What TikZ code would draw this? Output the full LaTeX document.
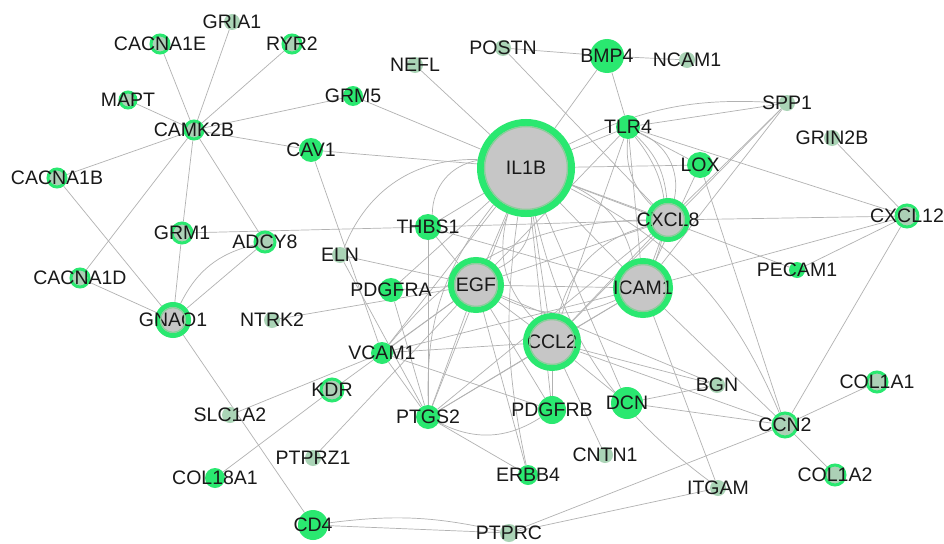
\documentclass[tikz,border=0pt]{standalone}
\usepackage{fontspec}
\setmainfont{Liberation Sans}
\usetikzlibrary{backgrounds}
\definecolor{ngreen}{RGB}{42,232,112}
\definecolor{hubfill}{RGB}{198,198,198}
\definecolor{ringin}{RGB}{140,205,155}
\definecolor{pale}{RGB}{170,212,182}
\definecolor{smallfill}{RGB}{172,208,182}
\definecolor{edgec}{RGB}{178,178,178}
\newcommand\gnode[5]{\node[#5, minimum size=#4*2pt, label={[lab]center:#1}] (#1) at (#2,#3) {};}
\newcommand\hubnode[5]{\node[hub, line width=#5pt, minimum size=(2*#4-#5)*1pt, label={[lab]center:#1}] (#1) at (#2,#3) {};
  \draw[ringin, line width=1.3pt] (#1.center) circle ({#4-#5-0.6});}
\begin{document}
\begin{tikzpicture}[x=1pt,y=-1pt,
  lab/.style={font=\fontsize{19.5}{19.5}\selectfont, text=black!90, inner sep=0pt},
  gn/.style={circle, inner sep=0pt, fill=ngreen, draw=none},
  gr/.style={circle, inner sep=0pt, fill=smallfill, draw=ngreen, line width=3pt},
  pl/.style={circle, inner sep=0pt, fill=pale, draw=none},
  hub/.style={circle, inner sep=0pt, fill=hubfill, draw=ngreen},
  edge/.style={draw=edgec, line width=0.7pt}]
\useasboundingbox (0,0) rectangle (944,543);
% nodes
\gnode{GRIA1}{232}{22}{8}{pl}
\gnode{CACNA1E}{160}{44}{9}{gr}
\gnode{RYR2}{292}{44}{9}{gr}
\gnode{MAPT}{128}{100}{8}{gr}
\gnode{CAMK2B}{194}{130}{9}{gr}
\gnode{CACNA1B}{57}{178}{9}{gr}
\gnode{GRM5}{353}{96}{10}{gn}
\gnode{NEFL}{415}{65}{8}{pl}
\gnode{POSTN}{503}{48}{8}{pl}
\gnode{BMP4}{607}{56}{17}{gn}
\gnode{NCAM1}{687}{60}{8}{pl}
\gnode{CAV1}{311}{150}{12}{gn}
\hubnode{IL1B}{526}{168}{49}{7}
\gnode{TLR4}{628}{127}{12}{gn}
\gnode{LOX}{700}{165}{13}{gn}
\gnode{SPP1}{787}{103}{8}{pl}
\gnode{GRIN2B}{832}{138}{8}{pl}
\hubnode{CXCL8}{668}{220}{22}{5}
\gnode{CXCL12}{907}{216}{11}{gr}
\gnode{THBS1}{428}{227}{13}{gn}
\gnode{GRM1}{182}{233}{10}{gr}
\gnode{ADCY8}{265}{242}{10}{gr}
\gnode{ELN}{340}{255}{8}{pl}
\gnode{PDGFRA}{391}{290}{12}{gn}
\hubnode{EGF}{476}{285}{28}{6}
\hubnode{ICAM1}{643}{288}{30}{6}
\gnode{PECAM1}{797}{270}{8}{gn}
\gnode{CACNA1D}{80}{278}{9}{gr}
\hubnode{GNAO1}{173}{320}{18}{5}
\gnode{NTRK2}{272}{320}{8}{pl}
\hubnode{CCL2}{552}{342}{29}{6}
\gnode{VCAM1}{382}{353}{11}{gn}
\gnode{KDR}{332}{390}{11}{gr}
\gnode{SLC1A2}{230}{415}{8}{pl}
\gnode{PTGS2}{428}{417}{12}{gn}
\gnode{PDGFRB}{552}{410}{14}{gn}
\gnode{DCN}{627}{403}{16}{gn}
\gnode{BGN}{717}{385}{8}{pl}
\gnode{CCN2}{785}{425}{12}{gr}
\gnode{COL1A1}{877}{382}{10}{gr}
\gnode{COL1A2}{835}{475}{10}{gr}
\gnode{PTPRZ1}{313}{458}{8}{pl}
\gnode{CNTN1}{605}{455}{8}{pl}
\gnode{ERBB4}{528}{475}{10}{gn}
\gnode{ITGAM}{718}{488}{8}{pl}
\gnode{COL18A1}{215}{478}{10}{gn}
\gnode{CD4}{313}{525}{15}{gn}
\gnode{PTPRC}{509}{533}{9}{pl}
% edges
\begin{scope}[on background layer]
\fill[white] (0,0) rectangle (944,543);
\foreach \a/\b in {CAMK2B/CACNA1E, CAMK2B/GRIA1, CAMK2B/RYR2, CAMK2B/MAPT, CAMK2B/CACNA1B,
  CAMK2B/GRM5, CAMK2B/CAV1, CAMK2B/GRM1, CAMK2B/ADCY8, CAMK2B/CACNA1D,
  GNAO1/CACNA1B, GNAO1/CACNA1D, GNAO1/GRM1, GNAO1/ADCY8, GNAO1/CD4, GRM1/THBS1,
  CAV1/IL1B, CAV1/VCAM1, NEFL/IL1B, GRM5/IL1B, POSTN/BMP4, POSTN/CXCL8, BMP4/IL1B,
  BMP4/NCAM1, BMP4/TLR4, TLR4/IL1B, TLR4/SPP1, TLR4/CXCL12, TLR4/ICAM1, TLR4/CCL2,
  TLR4/EGF, TLR4/LOX, LOX/IL1B, LOX/ICAM1, LOX/CCN2, SPP1/CXCL8, SPP1/ICAM1, SPP1/CCL2,
  GRIN2B/CXCL12, CXCL12/ICAM1, CXCL12/CXCL8, CXCL12/PECAM1, CXCL12/CCN2,
  PECAM1/IL1B, CCN2/COL1A1, CCN2/COL1A2, CCN2/DCN, CCN2/ICAM1, CCN2/CCL2, CCN2/PTPRC,
  ITGAM/ICAM1, ITGAM/PTPRC, DCN/BGN, DCN/CCL2, DCN/IL1B, BGN/CCL2, BGN/EGF,
  PDGFRB/EGF, PDGFRB/CCL2, PDGFRB/IL1B, VCAM1/PDGFRB, CNTN1/CCL2, ERBB4/PTGS2, ERBB4/EGF,
  PTGS2/IL1B, PTGS2/EGF, PTGS2/CCL2, PTGS2/ICAM1, PTGS2/CXCL8, PTGS2/VCAM1, PTGS2/THBS1,
  PTGS2/PDGFRA, PTGS2/ELN, KDR/COL18A1, KDR/EGF, PTPRZ1/EGF, SLC1A2/VCAM1,
  VCAM1/IL1B, VCAM1/ICAM1, VCAM1/CCL2, VCAM1/EGF, THBS1/IL1B, THBS1/EGF, THBS1/CXCL8,
  THBS1/ICAM1, PDGFRA/EGF, PDGFRA/IL1B, NTRK2/EGF, ELN/EGF,
  EGF/CCL2, EGF/ICAM1, EGF/CXCL8, EGF/IL1B, CCL2/ICAM1, CCL2/IL1B, CCL2/CXCL8,
  ICAM1/IL1B, ICAM1/CXCL8, CXCL8/IL1B, CD4/PTPRC}
  \draw[edge] (\a) -- (\b);
\draw[edge] (GNAO1) to[bend left=25] (ADCY8);
\draw[edge] (CD4) to[bend left=10] (PTPRC);
\draw[edge] (PTGS2) to[bend right=30] (PDGFRB);
\draw[edge] (ELN) to[bend left=35] (IL1B);
\draw[edge] (THBS1) to[bend left=40] (IL1B);
\draw[edge] (TLR4) to[bend left=20] (CXCL8);
\draw[edge] (TLR4) to[bend left=40] (CXCL8);
\draw[edge] (TLR4) to[bend right=25] (CXCL8);
\draw[edge] (TLR4) to[bend left=30] (ICAM1);
\draw[edge] (ITGAM) to[bend left=20] (IL1B);
\draw[edge] (SPP1) to[bend right=15] (IL1B);
\draw[edge] (IL1B) to[bend left=30] (EGF);
\draw[edge] (IL1B) to[bend right=30] (CCL2);
\draw[edge] (IL1B) to[bend left=25] (ICAM1);
\draw[edge] (EGF) to[bend right=25] (ICAM1);
\draw[edge] (CCL2) to[bend left=30] (CXCL8);
\draw[edge] (PTGS2) to[bend left=20] (IL1B);
\draw[edge] (VCAM1) to[bend left=25] (CXCL8);
\draw[edge] (ERBB4) to[bend left=10] (IL1B);
\draw[edge] (IL1B) to[bend left=20] (CCN2);
\end{scope}
\end{tikzpicture}
\end{document}
